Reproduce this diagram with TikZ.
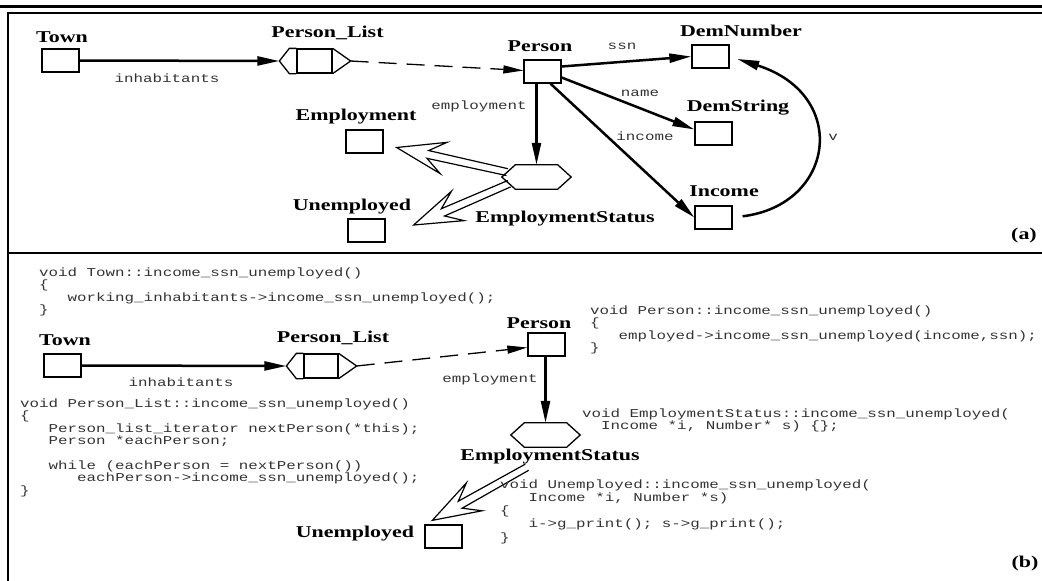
\documentclass[tikz,border=0pt]{standalone}
\usepackage{fontspec}
\setmainfont{Liberation Serif}
\setmonofont{Liberation Mono}
\usepackage{graphicx}
\usetikzlibrary{calc,arrows.meta}

% class names and role names are wide and flat in the scan
\newcommand\cname[1]{\scalebox{1.33}[1]{\fontsize{16.5}{18}\selectfont\bfseries #1}}
\newcommand\rname[1]{\scalebox{1.32}[1]{\fontsize{12}{12.3}\selectfont\ttfamily #1}}
\newcommand\codeblock[2]{\scalebox{1.32}[1]{\fontsize{12}{#1}\selectfont\ttfamily\frenchspacing
  \begin{tabular}[t]{@{}l@{}}#2\end{tabular}}}
% caps of the list shape and of the hexagon
\newcommand\listcaps[1]{%
  \draw[outline] (#1.north west) -- ++(-7,0) -- ($(#1.west)+(-17,0)$) coordinate (#1-in)
    -- ($(#1.south west)+(-7,0)$) -- (#1.south west);
  \draw[outline] (#1.north east) -- ($(#1.east)+(18,0)$) coordinate (#1-out) -- (#1.south east);}
\newcommand\hexcaps[1]{%
  \draw[outline] (#1.north west) -- (#1.north east) -- ($(#1.east)+(13.5,0)$) -- (#1.south east)
    -- (#1.south west) -- ($(#1.west)+(-13.5,0)$) coordinate (#1-l) -- cycle;}
% hollow double arrow from #1 to #2
\newcommand\implarrow[2]{%
  \draw[outline,line width=1.2pt] ($(#1)!3.5pt!-90:(#2)$) -- ($(#2)!32.2pt!7.1:(#1)$)
    -- ($(#2)!50.6pt!18.4:(#1)$) -- (#2) -- ($(#2)!50.6pt!-18.4:(#1)$)
    -- ($(#2)!32.2pt!-7.1:(#1)$) -- ($(#1)!3.5pt!90:(#2)$);}

\begin{document}
\begin{tikzpicture}[x=1pt,y=-1pt,
    box/.style={draw,line width=1.3pt,minimum width=37pt,minimum height=23pt,inner sep=0pt},
    slot/.style={minimum width=#1,minimum height=24pt,inner sep=0pt},
    outline/.style={line width=1.3pt,line join=miter},
    rel/.style={line width=2.5pt,-{Triangle[length=22pt,width=9pt]}},
    seq/.style={line width=1.3pt,dash pattern=on 18pt off 10pt,-{Triangle[length=20pt,width=8pt]}},
    lbl/.style={anchor=base,inner sep=0pt},
    role/.style={anchor=base,inner sep=0pt,text=black!80},
    code/.style={anchor=base west,inner sep=0pt,text=black!80},
    frame/.style={line width=1.3pt}]
  \useasboundingbox (0,0) rectangle (1042,581);

  % frame
  \draw[line width=3pt] (0,6.5) -- (1042,6.5);
  \draw[frame] (1042,13) -- (8,13) -- (8,581);
  \draw[frame] (8,253) -- (1042,253);

  % ---------- (a) ----------
  \node[box] (tn) at (60.5,60.5) {};
  \node[draw,outline,slot=35pt] (pl) at (314.5,61) {};
  \listcaps{pl}
  \node[box] (per) at (542.5,71.5) {};
  \node[box] (dn) at (710.5,56.5) {};
  \node[box] (ds) at (713.5,133.5) {};
  \node[box] (emp) at (364.5,141.5) {};
  \node[box] (inc) at (713.5,217.5) {};
  \node[box] (unemp) at (366.5,230.5) {};
  \node[slot=42pt] (es) at (536.5,177) {};
  \hexcaps{es}

  \node[lbl] at (62,42) {\cname{Town}};
  \node[lbl] at (327.5,37) {\cname{Person\_List}};
  \node[lbl] at (540,51) {\cname{Person}};
  \node[lbl] at (741,36.5) {\cname{DemNumber}};
  \node[lbl] at (738,111) {\cname{DemString}};
  \node[lbl] at (356,120) {\cname{Employment}};
  \node[lbl] at (724,196) {\cname{Income}};
  \node[lbl] at (352,210) {\cname{Unemployed}};
  \node[lbl] at (565,222) {\cname{EmploymentStatus}};
  \node[lbl] at (1024,239) {\cname{(a)}};

  \draw[rel] (tn.east) -- (pl-in);
  \draw[seq] (pl-out) -- ($(per.west)+(0,-1)$);
  \draw[rel] ($(per.east)+(0,-5)$) -- (dn.west);
  \draw[rel] ($(per.east)+(0,6)$) -- ($(ds.west)+(0,-4)$);
  \draw[rel] ($(per.south)+(8,0)$) -- (inc.west);
  \draw[rel] (per.south -| es.north) -- (es.north);
  \draw[rel,shorten <=10pt,shorten >=8pt] (inc.east) .. controls (835,205) and (850,95) .. (dn.east);
  \coordinate (empTip) at ($(emp.east)+(13,6)$);
  \coordinate (unempTip) at ($(unemp.east)+(28,-5.5)$);
  \implarrow{$(es-l)!0.4!(es.north west)$}{empTip}
  \implarrow{$(es-l)!0.55!(es.south west)$}{unempTip}

  \node[role] at (167,82.5) {\rname{inhabitants}};
  \node[role] at (622,49.5) {\rname{ssn}};
  \node[role] at (640,96.5) {\rname{name}};
  \node[role] at (479,109.5) {\rname{employment}};
  \node[role] at (645,140.5) {\rname{income}};
  \node[role] at (833,140.5) {\rname{v}};

  % ---------- (b) ----------
  \node[box] (tnB) at (62.5,365.5) {};
  \node[draw,outline,slot=34pt] (plB) at (321,366) {};
  \listcaps{plB}
  \node[box] (perB) at (546.5,344.5) {};
  \node[slot=42pt] (esB) at (545.5,435) {};
  \hexcaps{esB}
  \node[box] (unempB) at (443.5,536.5) {};

  \node[lbl] at (65,345) {\cname{Town}};
  \node[lbl] at (333,342) {\cname{Person\_List}};
  \node[lbl] at (539,328) {\cname{Person}};
  \node[lbl] at (550,460) {\cname{EmploymentStatus}};
  \node[lbl] at (355,537) {\cname{Unemployed}};
  \node[lbl] at (1025,567) {\cname{(b)}};

  \draw[rel] (tnB.east) -- (plB-in);
  \draw[seq] (plB-out) -- ($(perB.west)+(0,3)$);
  \draw[rel] (perB.south -| esB.north) -- (esB.north);
  \coordinate (esFoot) at ($(esB.south)+(-18.5,20)$);
  \coordinate (unempTipB) at ($(unempB.north west)+(8,-4)$);
  \implarrow{esFoot}{unempTipB}

  \node[role] at (181,386.5) {\rname{inhabitants}};
  \node[role] at (490,382.5) {\rname{employment}};

  % propagation code
  \node[code] (twnCode) at (39,276.5) {\codeblock{12.3}{%
    void Town::income\_ssn\_unemployed()\\
    \{\\
    ~~~working\_inhabitants->income\_ssn\_unemployed();\\
    \}}};
  \node[code] (perCode) at (590,314.5) {\codeblock{12}{%
    void Person::income\_ssn\_unemployed()\\
    \{\\
    ~~~employed->income\_ssn\_unemployed(income,ssn);\\
    \}}};
  \node[code] (plCode) at (20,407.5) {\codeblock{12.3}{%
    void Person\_List::income\_ssn\_unemployed()\\
    \{\\
    ~~~Person\_list\_iterator nextPerson(*this);\\
    ~~~Person *eachPerson;\\
    \\
    ~~~while (eachPerson = nextPerson())\\
    ~~~~~~eachPerson->income\_ssn\_unemployed();\\
    \}}};
  \node[code] (esCode) at (582,417.5) {\codeblock{12}{%
    void EmploymentStatus::income\_ssn\_unemployed(\\
    ~~Income *i, Number* s) \{\};}};
  \node[code] (unCode) at (500,488) {\codeblock{13.3}{%
    void Unemployed::income\_ssn\_unemployed(\\
    ~~~Income *i, Number *s)\\
    \{\\
    ~~~i->g\_print(); s->g\_print();\\
    \}}};
\end{tikzpicture}
\end{document}
